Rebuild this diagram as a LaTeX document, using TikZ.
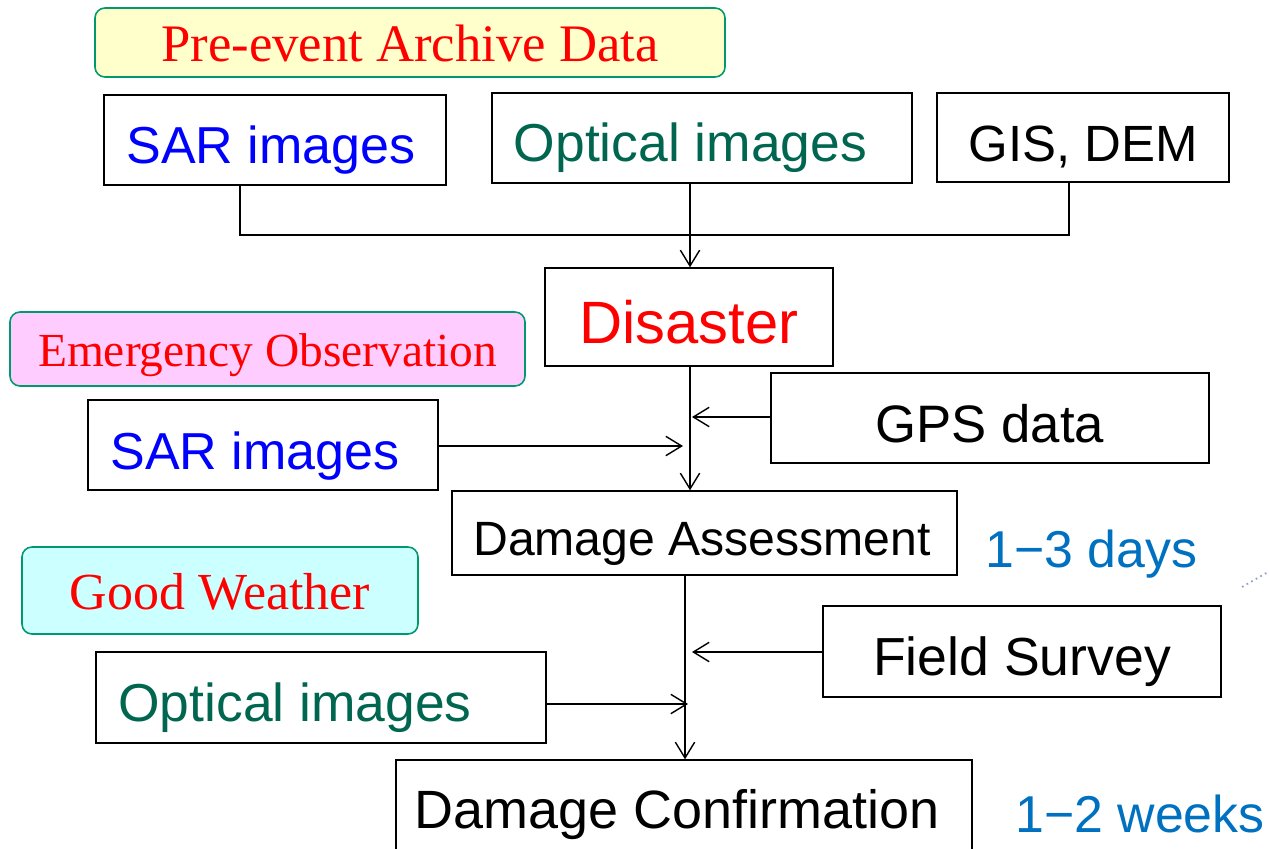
\documentclass[tikz,border=0pt]{standalone}
\usepackage{fontspec}
\setmainfont{Liberation Serif}
\setsansfont{Liberation Sans}
\usetikzlibrary{arrows.meta}
\definecolor{tagline}{RGB}{0,153,110}
\definecolor{fillyellow}{RGB}{255,255,204}
\definecolor{fillpink}{RGB}{255,204,255}
\definecolor{fillcyan}{RGB}{204,255,255}
\definecolor{sarblue}{RGB}{0,0,255}
\definecolor{optgreen}{RGB}{0,102,80}
\definecolor{timeblue}{RGB}{0,112,192}
\definecolor{straydot}{RGB}{150,160,205}
% pad after the text, moving it left inside its box
\newcommand{\leftpad}[1]{\hspace*{#1}}
\tikzset{
  wh/.style 2 args={minimum width=#1*0.02cm, minimum height=#2*0.02cm},
  box/.style={draw=black, line width=0.8pt, fill=white, inner sep=0pt,
    font=\sffamily\fontsize{30}{36}\selectfont, text height=0.96cm, text depth=0pt},
  tag/.style={draw=tagline, line width=0.9pt, rounded corners=0.2cm, inner sep=0pt,
    text=red, font=\rmfamily\fontsize{30}{36}\selectfont, text height=0.78cm, text depth=0pt},
  timelabel/.style={anchor=base west, inner sep=0pt, text=timeblue,
    font=\sffamily\fontsize{29.5}{34}\selectfont},
  link/.style={draw=black, line width=0.8pt},
  arr/.style={link, -{Straight Barb[length=9pt, width=11pt, line width=0.8pt]}}
}
\begin{document}
\begin{tikzpicture}[x=0.02cm, y=-0.02cm]
\useasboundingbox (0,0) rectangle (1270,848);
\clip (0,0) rectangle (1270,848);

% section headings
\node[tag, fill=fillyellow, wh={630}{69}] (pre) at (410,42.5) {Pre-event Archive Data};
\node[tag, fill=fillpink, wh={515}{74}, font=\rmfamily\fontsize{27}{32}\selectfont, text height=0.7cm] (emg) at (267.5,349) {Emergency Observation};
\node[tag, fill=fillcyan, wh={396}{87}, font=\rmfamily\fontsize{29.6}{35}\selectfont, text height=0.77cm] (gw) at (220,590.5) {Good Weather};

% archive inputs
\node[box, wh={342}{90}, text=sarblue, font=\sffamily\fontsize{29.6}{36}\selectfont] (sar1) at (275,140) {SAR images\leftpad{0.16cm}};
\node[box, wh={420}{90}, text=optgreen, font=\sffamily\fontsize{30.4}{36}\selectfont] (opt1) at (702,138) {Optical images\leftpad{0.46cm}};
\node[box, wh={292}{89}, font=\sffamily\fontsize{29}{35}\selectfont] (gis) at (1083,137.5) {GIS, DEM};

% main chain
\node[box, wh={288}{98}, text=red, font=\sffamily\fontsize{34}{40}\selectfont, text height=1.06cm] (dis) at (689,317) {Disaster};
\node[box, wh={438}{90}] (gps) at (990,418) {GPS data};
\node[box, wh={350}{90}, text=sarblue, font=\sffamily\fontsize{29.6}{36}\selectfont] (sar2) at (263,445) {SAR images\leftpad{0.32cm}};
\node[box, wh={505}{84}, font=\sffamily\fontsize{27.4}{33}\selectfont, text height=0.89cm] (da) at (704.5,533) {Damage Assessment\leftpad{0.1cm}};
\node[box, wh={398}{91}, font=\sffamily\fontsize{30.5}{36}\selectfont] (fs) at (1022,651.5) {Field Survey};
\node[box, wh={450}{91}, text=optgreen, font=\sffamily\fontsize{30.4}{36}\selectfont] (opt2) at (321,697.5) {Optical images\leftpad{1.04cm}};
\node[box, wh={576}{100}, font=\sffamily\fontsize{30.7}{36}\selectfont, text height=0.73cm] (dc) at (684,810) {Damage Confirmation\leftpad{0.28cm}};

% time labels
\node[timelabel] (t1) at (985,567) {1−3 days};
\node[timelabel] (t2) at (1015,832) {1−2 weeks};

% merging the archive data
\coordinate (ja) at (240,235);
\coordinate (jm) at (690,235);
\coordinate (jb) at (1069,235);
\draw[link] (sar1.south -| ja) -- (ja) -- (jb) -- (gis.south -| jb);
\draw[link] (opt1.south -| jm) -- (jm);
\draw[arr] (jm) -- (dis.north -| jm);

% first trunk: disaster to assessment
\coordinate (ua) at (690,366);
\draw[arr] (dis.south -| ua) -- (da.north -| ua);
\draw[arr] (gps.west |- 0,417) -- (692,417);
\draw[arr] (sar2.east |- 0,446) -- (683,446);

% second trunk: assessment to confirmation
\coordinate (la) at (685,578);
\draw[arr] (da.south -| la) -- (dc.north -| la);
\draw[arr] (fs.west |- 0,652) -- (692,652);
\draw[arr] (opt2.east |- 0,704) -- (688,704);

% faint dotted trace at the right edge
\draw[straydot, line width=1pt, dotted] (1242,587) -- (1268,572);
\end{tikzpicture}
\end{document}
